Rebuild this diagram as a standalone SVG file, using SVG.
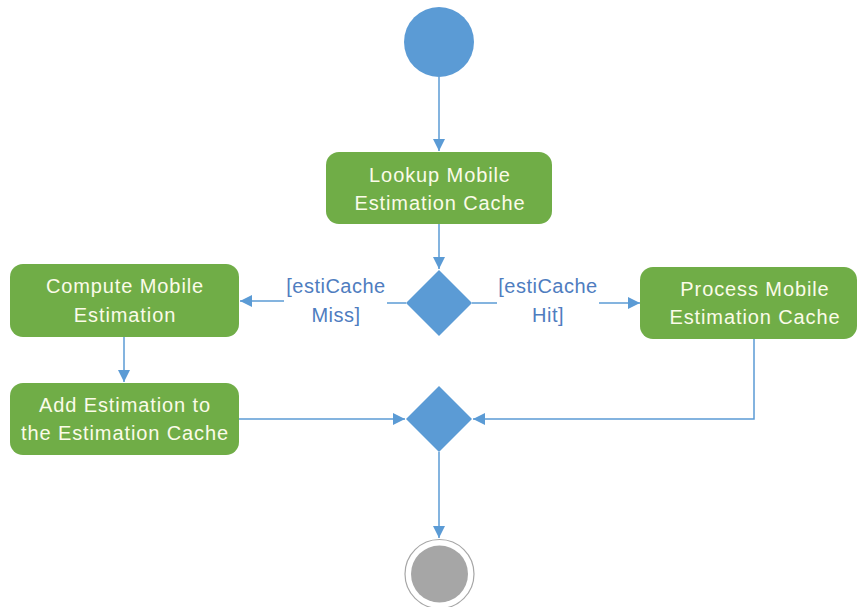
<svg xmlns="http://www.w3.org/2000/svg" width="858" height="607" viewBox="0 0 858 607">
  <style>
    .act { fill: #70ad47; }
    .actText { font-family: "Liberation Sans", Arial, sans-serif; font-size: 20px; letter-spacing: 0.9px; fill: #fbfbe9; text-anchor: middle; }
    .guard { font-family: "Liberation Sans", Arial, sans-serif; font-size: 20px; letter-spacing: 0.5px; fill: #4f7dbf; text-anchor: middle; }
    .flow { stroke: #5b9bd5; stroke-width: 1.5; fill: none; }
    .decision { fill: #5b9bd5; }
  </style>
  <defs>
    <marker id="arrow" viewBox="0 0 12 12" refX="12" refY="6" markerWidth="12" markerHeight="12" markerUnits="userSpaceOnUse" orient="auto">
      <path d="M0,0 L12,6 L0,12 Z" fill="#5b9bd5"/>
    </marker>
  </defs>
  <rect width="858" height="607" fill="#ffffff"/>

  <g id="connectors">
    <line class="flow" x1="439" y1="77" x2="439" y2="151" marker-end="url(#arrow)"/>
    <line class="flow" x1="439" y1="224" x2="439" y2="269" marker-end="url(#arrow)"/>
    <line class="flow" x1="406" y1="303" x2="387" y2="303"/>
    <line class="flow" x1="284" y1="301" x2="240" y2="301" marker-end="url(#arrow)"/>
    <line class="flow" x1="472" y1="303" x2="497" y2="303"/>
    <line class="flow" x1="599" y1="303" x2="640" y2="303" marker-end="url(#arrow)"/>
    <line class="flow" x1="124" y1="337" x2="124" y2="382" marker-end="url(#arrow)"/>
    <line class="flow" x1="239" y1="419" x2="405" y2="419" marker-end="url(#arrow)"/>
    <polyline class="flow" points="754,339 754,419 473,419" marker-end="url(#arrow)"/>
    <line class="flow" x1="439" y1="452" x2="439" y2="538" marker-end="url(#arrow)"/>
  </g>

  <g id="start">
    <circle cx="439" cy="42" r="35" fill="#5b9bd5"/>
  </g>

  <g id="lookup">
    <rect class="act" x="326" y="152" width="226" height="72" rx="13"/>
    <text class="actText" x="440" y="182">Lookup Mobile</text>
    <text class="actText" x="440" y="210">Estimation Cache</text>
  </g>

  <g id="decision-cache">
    <polygon class="decision" points="439,270 472,303 439,336 406,303"/>
  </g>

  <g id="guard-miss">
    <text class="guard" x="336" y="293">[estiCache</text>
    <text class="guard" x="336" y="322">Miss]</text>
  </g>

  <g id="guard-hit">
    <text class="guard" x="548" y="293">[estiCache</text>
    <text class="guard" x="548" y="322">Hit]</text>
  </g>

  <g id="compute">
    <rect class="act" x="10" y="264" width="229" height="73" rx="13"/>
    <text class="actText" x="125" y="293">Compute Mobile</text>
    <text class="actText" x="125" y="322">Estimation</text>
  </g>

  <g id="process">
    <rect class="act" x="640" y="267" width="217" height="72" rx="13"/>
    <text class="actText" x="755" y="296">Process Mobile</text>
    <text class="actText" x="755" y="324">Estimation Cache</text>
  </g>

  <g id="add">
    <rect class="act" x="10" y="383" width="229" height="72" rx="13"/>
    <text class="actText" x="125" y="412">Add Estimation to</text>
    <text class="actText" x="125" y="440">the Estimation Cache</text>
  </g>

  <g id="merge">
    <polygon class="decision" points="439,386 472,419 439,452 406,419"/>
  </g>

  <g id="end">
    <circle cx="439.5" cy="574" r="34.5" fill="#ffffff" stroke="#a6a6a6" stroke-width="1.2"/>
    <circle cx="439.5" cy="574" r="28.5" fill="#a6a6a6"/>
  </g>
</svg>
